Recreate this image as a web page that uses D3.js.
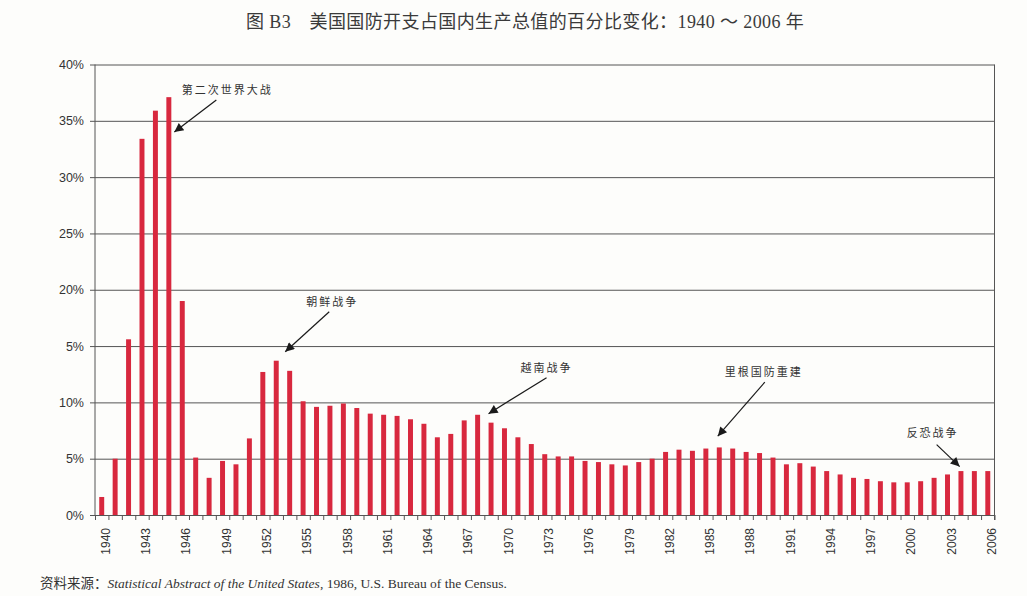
<!DOCTYPE html>
<html lang="zh">
<head>
<meta charset="UTF-8">
<title>美国国防开支占国内生产总值的百分比变化</title>
<script src="https://d3js.org/d3.v7.min.js"></script>
<style>
  body { margin: 0; background: #fdfdfb; }
  svg { display: block; }
</style>
</head>
<body>
<svg id="chart" width="1027" height="596"></svg>
<script>
// data
const years = d3.range(1940, 2007);
const defenseShare = [
  1.6, 5.0, 15.6, 33.4, 35.9, 37.1, 19.0, 5.1, 3.3, 4.8,   // 1940-49
  4.5, 6.8, 12.7, 13.7, 12.8, 10.1, 9.6, 9.7, 9.9, 9.5,    // 1950-59
  9.0, 8.9, 8.8, 8.5, 8.1, 6.9, 7.2, 8.4, 8.9, 8.2,        // 1960-69
  7.7, 6.9, 6.3, 5.4, 5.2, 5.2, 4.8, 4.7, 4.5, 4.4,        // 1970-79
  4.7, 5.0, 5.6, 5.8, 5.7, 5.9, 6.0, 5.9, 5.6, 5.5,        // 1980-89
  5.1, 4.5, 4.6, 4.3, 3.9, 3.6, 3.3, 3.2, 3.0, 2.9,        // 1990-99
  2.9, 3.0, 3.3, 3.6, 3.9, 3.9, 3.9                        // 2000-06
];
const labelYears = d3.range(1940, 2007, 3);
const yTicks = [0, 5, 10, 15, 20, 25, 30, 35, 40];
const yTickLabels = ["0%", "5%", "10%", "5%", "20%", "25%", "30%", "35%", "40%"];

// annotation: arrow tip at (year, value), tail offset, label offset from tail
const notes = [
  { text: "第二次世界大战", year: 1945, value: 34.0, shift: 5.5, dx: 42, dy: -32, tx: 11, ty: -10 },
  { text: "朝鲜战争", year: 1953, value: 14.5, shift: 9, dx: 44, dy: -40, tx: 3, ty: -10 },
  { text: "越南战争", year: 1969, value: 9.0, shift: -2.5, dx: 58, dy: -36, tx: 0, ty: -9 },
  { text: "里根国防重建", year: 1986, value: 7.0, shift: -1.5, dx: 47, dy: -54, tx: -1, ty: -10 },
  { text: "反恐战争", year: 2004, value: 4.3, shift: -1.3, dx: -23, dy: -22, tx: -4, ty: -11 }
];

const svg = d3.select("#chart");
const plotLeft = 95, plotRight = 994.5, plotTop = 64.5, plotBottom = 515;

const x = d3.scaleBand()
  .domain(years)
  .range([plotLeft, plotRight])
  .paddingInner(0.63)
  .paddingOuter(0.315);

// year boundaries, used for the small ticks between bars
const xEdge = d3.scaleLinear()
  .domain([1940, 2007])
  .range([plotLeft, plotRight]);

const y = d3.scaleLinear()
  .domain([0, 40])
  .range([plotBottom, plotTop]);

// title
svg.append("text")
  .attr("x", 246)
  .attr("y", 28)
  .attr("font-family", "'Liberation Serif', 'Noto Sans CJK SC', serif")
  .attr("font-size", 18)
  .attr("letter-spacing", 0.4)
  .attr("fill", "#3a3a3a")
  .text("图 B3　美国国防开支占国内生产总值的百分比变化：1940 ～ 2006 年");

// horizontal grid + y labels
const yAxis = svg.append("g")
  .attr("transform", "translate(90,0)")
  .call(d3.axisLeft(y)
    .tickValues(yTicks)
    .tickFormat((d, i) => yTickLabels[i])
    .tickSize(-(plotRight - 90))
    .tickPadding(6));
yAxis.select(".domain").remove();
yAxis.selectAll("line").attr("stroke", "#555");
yAxis.selectAll("text")
  .attr("font-family", "'Liberation Sans', Arial, sans-serif")
  .attr("font-size", 12.5)
  .attr("fill", "#333");

// bars
svg.append("g")
  .selectAll("rect")
  .data(years)
  .join("rect")
  .attr("x", d => x(d))
  .attr("y", (d, i) => y(defenseShare[i]))
  .attr("width", x.bandwidth())
  .attr("height", (d, i) => plotBottom - y(defenseShare[i]))
  .attr("fill", "#d8283e");

// frame: y-axis line and right border
svg.append("line")
  .attr("x1", plotLeft).attr("x2", plotLeft)
  .attr("y1", plotTop).attr("y2", plotBottom)
  .attr("stroke", "#555");
svg.append("line")
  .attr("x1", plotRight).attr("x2", plotRight)
  .attr("y1", plotTop).attr("y2", plotBottom + 5)
  .attr("stroke", "#555");

// small ticks between years
const tickAxis = svg.append("g")
  .attr("transform", `translate(0,${plotBottom})`)
  .call(d3.axisBottom(xEdge)
    .tickValues(d3.range(1940, 2008))
    .tickFormat("")
    .tickSize(5)
    .tickSizeOuter(0));
tickAxis.select(".domain").remove();
tickAxis.selectAll("line").attr("stroke", "#555");

// rotated year labels
const xAxis = svg.append("g")
  .attr("transform", `translate(0,${plotBottom})`)
  .call(d3.axisBottom(x).tickValues(labelYears).tickSize(0));
xAxis.select(".domain").remove();
xAxis.selectAll("text")
  .attr("font-family", "'Liberation Sans', Arial, sans-serif")
  .attr("font-size", 12)
  .attr("fill", "#333")
  .attr("text-anchor", "end")
  .attr("transform", "translate(4,13) rotate(-90)")
  .attr("x", 0)
  .attr("y", 0)
  .attr("dy", "0.35em");

// annotations
svg.append("defs").append("marker")
  .attr("id", "head")
  .attr("viewBox", "0 0 10 10")
  .attr("refX", 10)
  .attr("refY", 5)
  .attr("markerWidth", 11)
  .attr("markerHeight", 9)
  .attr("markerUnits", "userSpaceOnUse")
  .attr("orient", "auto")
  .append("path")
  .attr("d", "M0,0L10,5L0,10Z")
  .attr("fill", "#1a1a1a");

const note = svg.append("g").selectAll("g")
  .data(notes)
  .join("g");

note.append("line")
  .attr("x1", d => x(d.year) + x.bandwidth() / 2 + d.shift + d.dx)
  .attr("y1", d => y(d.value) + d.dy)
  .attr("x2", d => x(d.year) + x.bandwidth() / 2 + d.shift)
  .attr("y2", d => y(d.value))
  .attr("stroke", "#1a1a1a")
  .attr("stroke-width", 1.2)
  .attr("marker-end", "url(#head)");

note.append("text")
  .attr("x", d => x(d.year) + x.bandwidth() / 2 + d.shift + d.dx + d.tx)
  .attr("y", d => y(d.value) + d.dy + d.ty)
  .attr("dy", "0.35em")
  .attr("text-anchor", "middle")
  .attr("font-family", "'Noto Sans CJK SC', sans-serif")
  .attr("font-size", 11)
  .attr("letter-spacing", 2)
  .attr("fill", "#333")
  .text(d => d.text);

// source line
const src = svg.append("text")
  .attr("x", 40)
  .attr("y", 588)
  .attr("font-family", "'Liberation Serif', 'Noto Sans CJK SC', serif")
  .attr("font-size", 13.5)
  .attr("fill", "#333");
src.append("tspan").text("资料来源：");
src.append("tspan").attr("font-style", "italic").text("Statistical Abstract of the United States");
src.append("tspan").text(", 1986, U.S. Bureau of the Census.");
</script>
</body>
</html>
